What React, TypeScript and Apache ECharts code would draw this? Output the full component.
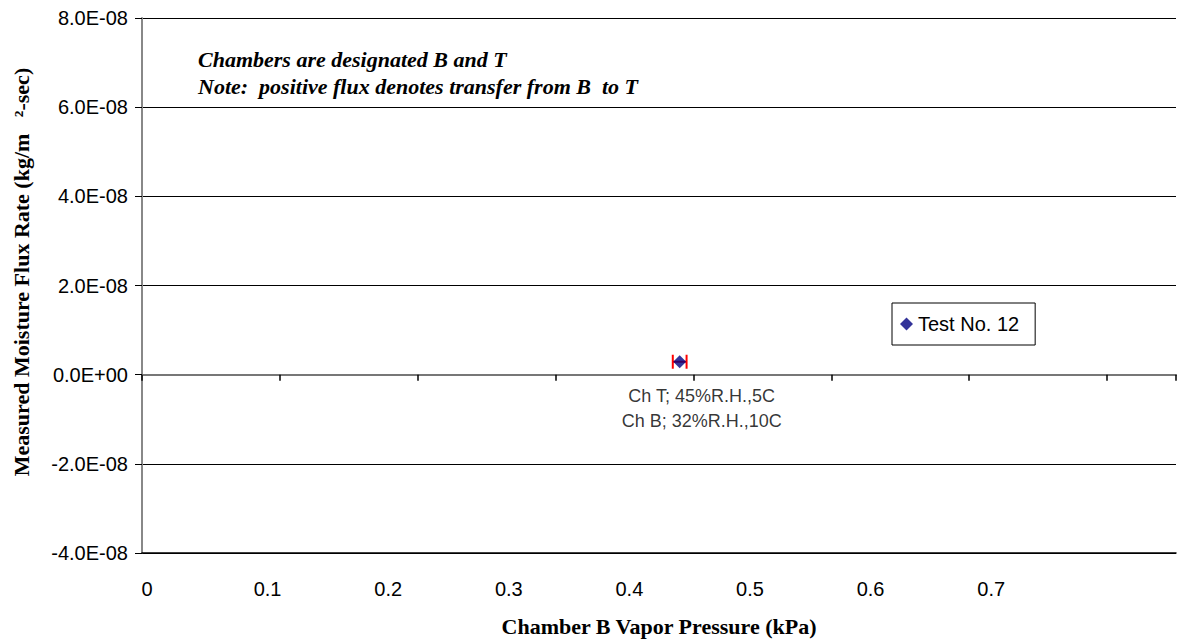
import React, { useEffect, useRef } from "react";
import * as echarts from "echarts";

// Data
const seriesName = "Test No. 12";
const vaporPressure = [0.39]; // kPa, chamber B
const fluxRate = [2.9e-9]; // kg/m2-sec
const xError = [0.005];
const pointLabels = ["Ch T; 45%R.H.,5C\nCh B; 32%R.H.,10C"];
const yTicks = { min: -4e-8, max: 8e-8, interval: 2e-8 };
const notes = [
  "Chambers are designated B and T",
  "Note:  positive flux denotes transfer from B  to T",
];
const xTitle = "Chamber B Vapor Pressure (kPa)";
const yTitle = "Measured Moisture Flux Rate (kg/m   \u00B2-sec)";

const SANS = '"Liberation Sans", Arial, sans-serif';
const SERIF = '"Liberation Serif", "Times New Roman", serif';

function fmtExp(v: number): string {
  if (v === 0) return "0.0E+00";
  const e = Math.floor(Math.log10(Math.abs(v)) + 1e-9);
  const m = v / Math.pow(10, e);
  return m.toFixed(1) + "E" + (e < 0 ? "-" : "+") + String(Math.abs(e)).padStart(2, "0");
}

export default function App() {
  const ref = useRef<HTMLDivElement>(null);
  useEffect(() => {
    if (!ref.current) return;
    const chart = echarts.init(ref.current, undefined, { renderer: "svg" });
    const points = vaporPressure.map((x, i) => [x, fluxRate[i]]);
    const errData = vaporPressure.map((x, i) => [x, fluxRate[i], xError[i]]);
    chart.setOption({
      animation: false,
      backgroundColor: "#fff",
      grid: { left: 142, right: -3, top: 18, bottom: 86, containLabel: false },
      legend: {
        data: [{ name: seriesName, icon: "diamond" }],
        left: 892,
        top: 303,
        orient: "vertical",
        borderColor: "#000",
        borderWidth: 1,
        padding: [11, 16, 11, 8],
        itemWidth: 13,
        itemHeight: 13,
        itemGap: 4,
        textStyle: { fontFamily: SANS, fontSize: 20, color: "#000" },
      },
      xAxis: [
        {
          type: "value",
          min: 0,
          max: 0.75,
          interval: 0.1,
          position: "bottom",
          axisLine: { show: true, onZero: true, lineStyle: { color: "#777", width: 2 } },
          axisTick: { show: true, length: 6, lineStyle: { color: "#000", width: 1.5 } },
          axisLabel: { show: false },
          splitLine: { show: false },
        },
        {
          type: "value",
          min: 0,
          max: 0.8574,
          interval: 0.1,
          position: "bottom",
          axisLine: { show: true, onZero: false, lineStyle: { color: "#000", width: 1.5 } },
          axisTick: { show: false },
          axisLabel: {
            margin: 26,
            padding: [0, 0, 0, 10],
            fontFamily: SANS,
            fontSize: 20,
            color: "#000",
            formatter: (v: number) => (v > 0.75 ? "" : String(Number(v.toFixed(1)))),
          },
          splitLine: { show: false },
          name: xTitle,
          nameLocation: "middle",
          nameGap: 62,
          nameTextStyle: { fontFamily: SERIF, fontSize: 22, fontWeight: "bold", color: "#000" },
        },
      ],
      yAxis: {
        type: "value",
        min: yTicks.min,
        max: yTicks.max,
        interval: yTicks.interval,
        axisLine: { show: true, onZero: false, lineStyle: { color: "#888", width: 2 } },
        axisTick: { show: true, length: 7, lineStyle: { color: "#000", width: 1 } },
        axisLabel: {
          margin: 14,
          fontFamily: SANS,
          fontSize: 20,
          color: "#000",
          formatter: (v: number) => fmtExp(v),
        },
        splitLine: { show: true, lineStyle: { color: "#000", width: 1 } },
      },
      series: [
        {
          type: "custom",
          name: "err",
          xAxisIndex: 0,
          encode: { x: 0, y: 1 },
          silent: true,
          z: 2,
          data: errData,
          renderItem: (params: any, api: any) => {
            const x = api.value(0);
            const y = api.value(1);
            const e = api.value(2);
            const p0 = api.coord([x - e, y]);
            const p1 = api.coord([x + e, y]);
            const cap = 7;
            const st = { stroke: "#ff0000", lineWidth: 2 };
            return {
              type: "group",
              children: [
                { type: "line", shape: { x1: p0[0], y1: p0[1], x2: p1[0], y2: p1[1] }, style: st },
                { type: "line", shape: { x1: p0[0], y1: p0[1] - cap, x2: p0[0], y2: p0[1] + cap }, style: st },
                { type: "line", shape: { x1: p1[0], y1: p1[1] - cap, x2: p1[0], y2: p1[1] + cap }, style: st },
              ],
            };
          },
        },
        {
          type: "scatter",
          name: seriesName,
          xAxisIndex: 0,
          symbol: "diamond",
          symbolSize: 13,
          z: 3,
          itemStyle: { color: "#000080" },
          data: points.map((p, i) => ({
            value: p,
            label: {
              show: true,
              position: "bottom",
              offset: [22, 10],
              formatter: pointLabels[i],
              fontFamily: SANS,
              fontSize: 18,
              lineHeight: 25,
              color: "#000",
              align: "center",
            },
          })),
        },
      ],
      graphic: [
        ...notes.map((t, i) => ({
          type: "text",
          x: 198,
          y: 59 + i * 27,
          style: {
            text: t,
            font: `italic bold 22px ${SERIF}`,
            fill: "#000",
            verticalAlign: "middle",
            align: "left",
          },
        })),
        {
          type: "text",
          x: 21,
          y: 272,
          rotation: Math.PI / 2,
          style: {
            text: yTitle,
            font: `bold 22px ${SERIF}`,
            fill: "#000",
            align: "center",
            verticalAlign: "middle",
          },
        },
      ],
    });
    return () => chart.dispose();
  }, []);
  return (
    <div
      ref={ref}
      style={{ position: "fixed", left: 0, top: 0, width: 1179, height: 642 }}
    />
  );
}
